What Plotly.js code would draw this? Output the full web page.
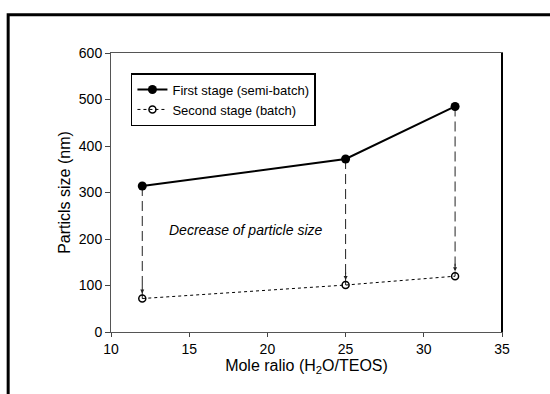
<!DOCTYPE html>
<html>
<head>
<meta charset="utf-8">
<script src="https://cdn.plot.ly/plotly-3.0.1.min.js"></script>
<style>
html,body{margin:0;padding:0;background:#fff;}
#chart{width:550px;height:394px;}
</style>
</head>
<body>
<div id="chart"></div>
<script>
// Data
var moleRatio = [12, 25, 32];
var firstStage = [314, 372, 485];
var secondStage = [72, 101, 120];
var seriesNames = ["First stage (semi-batch)", "Second stage (batch)"];
var xTicks = [10, 15, 20, 25, 30, 35];
var yTicks = [0, 100, 200, 300, 400, 500, 600];
var noteText = "Decrease of particle size";

var traces = [];
// dashed connectors (drawn first, under markers)
for (var i = 0; i < moleRatio.length; i++) {
  traces.push({
    x: [moleRatio[i], moleRatio[i]],
    y: [firstStage[i], secondStage[i]],
    mode: "lines",
    line: {color: "#222", width: 1, dash: "10px,5px"},
    showlegend: false,
    hoverinfo: "skip"
  });
}
traces.push({
  x: moleRatio, y: firstStage, name: seriesNames[0],
  mode: "lines+markers",
  line: {color: "#000", width: 2},
  marker: {symbol: "circle", size: 9, color: "#000"}
});
traces.push({
  x: moleRatio, y: secondStage, name: seriesNames[1],
  mode: "lines+markers",
  line: {color: "#000", width: 1, dash: "dot"},
  marker: {symbol: "circle-open", size: 7, color: "#000", line: {width: 1.5, color: "#000"}}
});

var annotations = [{
  x: 18.6, y: 219, xref: "x", yref: "y",
  text: "<i>" + noteText + "</i>", showarrow: false,
  font: {family: "Liberation Sans, Arial, sans-serif", size: 14, color: "#000"}
}];
for (var j = 0; j < moleRatio.length; j++) {
  annotations.push({
    x: moleRatio[j], y: secondStage[j], xref: "x", yref: "y",
    ax: 0, ay: -14, axref: "pixel", ayref: "pixel",
    showarrow: true, arrowhead: 2, arrowsize: 0.8, arrowwidth: 1,
    arrowcolor: "#222", standoff: 5, text: ""
  });
}

var font = {family: "Liberation Sans, Arial, sans-serif", color: "#000"};
var layout = {
  width: 550, height: 394,
  margin: {l: 111, r: 48, t: 53, b: 62},
  paper_bgcolor: "#fff", plot_bgcolor: "#fff",
  showlegend: true,
  font: font,
  xaxis: {
    range: [10, 35], tickvals: xTicks, ticks: "outside", ticklen: 4,
    tickcolor: "#444", showgrid: false, zeroline: false,
    showline: true, linecolor: "#555", linewidth: 1, mirror: true,
    tickfont: {family: font.family, size: 14, color: "#000"},
    title: {text: "Mole ralio (H<sub>2</sub>O/TEOS)", font: {family: font.family, size: 16, color: "#000"}, standoff: 2}
  },
  yaxis: {
    range: [0, 600], tickvals: yTicks, ticks: "outside", ticklen: 5,
    tickcolor: "#444", showgrid: false, zeroline: false,
    showline: true, linecolor: "#555", linewidth: 1, mirror: true,
    tickfont: {family: font.family, size: 14, color: "#000"},
    title: {text: "Particls size (nm)", font: {family: font.family, size: 16, color: "#000"}, standoff: 4}
  },
  legend: {
    x: 0.051, y: 0.928, xanchor: "left", yanchor: "top",
    bgcolor: "#fff", bordercolor: "#000", borderwidth: 1.5,
    font: {family: font.family, size: 13, color: "#000"},
    tracegroupgap: 0, itemwidth: 30
  },
  annotations: annotations,
  shapes: [
    {type: "rect", xref: "paper", yref: "paper", x0: -0.263, x1: 1.2, y0: -0.3, y1: 1.137,
     line: {color: "#000", width: 3}, layer: "above"},
    {type: "line", xref: "paper", yref: "paper", x0: 1, x1: 1, y0: 0, y1: 1,
     line: {color: "#000", width: 2}}
  ]
};

Plotly.newPlot("chart", traces, layout, {displayModeBar: false, staticPlot: true});
</script>
</body>
</html>
